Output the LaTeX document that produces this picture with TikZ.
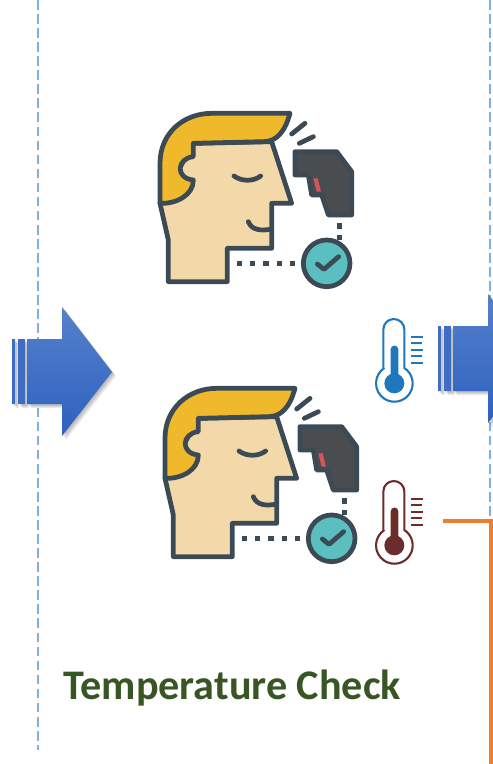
\documentclass[tikz,border=0pt]{standalone}
\usepackage{xcolor}
\usepackage{fontspec}
\setmainfont{Carlito}
\usepackage{tikz}
\definecolor{iconline}{HTML}{3B4A54}
\definecolor{hairfill}{HTML}{F0B92B}
\definecolor{skinfill}{HTML}{F3D9AA}
\definecolor{gunfill}{HTML}{4A4D50}
\definecolor{triggerfill}{HTML}{D9545A}
\definecolor{checkfill}{HTML}{5BBFC0}
\definecolor{coolblue}{HTML}{1F78BE}
\definecolor{hotred}{HTML}{6B2C2C}
\definecolor{guideblue}{HTML}{7FB0DE}
\definecolor{flagorange}{HTML}{ED7D31}
\definecolor{titlegreen}{HTML}{375623}
\definecolor{arrowtop}{HTML}{5580CB}
\definecolor{arrowbottom}{HTML}{2E61BF}
\tikzset{
facepart/.style={draw=iconline,line width=2.7pt,line join=round,line cap=round},
guide/.style={draw=guideblue,line width=0.6pt,dash pattern=on 5.5pt off 2.5pt},
flag/.style={draw=flagorange,line width=2.2pt},
pics/faceicon/.style={code={
% hair and head
\path[facepart,fill=skinfill] (60,310) -- (85,420) -- (85,545) -- (262,545) -- (262,445) -- (395,445) -- (395,310) -- (455,310) -- (395,125) -- (160,130) -- cycle;
\path[facepart,fill=hairfill] (60,310) -- (60,190) .. controls (60,100) and (130,40) .. (215,40) -- (450,40) .. controls (435,95) and (410,125) .. (370,125) -- (160,130) -- (160,170) .. controls (110,175) and (105,235) .. (160,240) .. controls (160,285) and (110,312) .. (60,310) -- cycle;
% eye and smile
\path[facepart] (282,228) .. controls (305,245) and (340,245) .. (362,228);
\path[facepart] (325,365) .. controls (335,392) and (365,392) .. (392,388);
% beams
\path[facepart] (455,102) -- (495,70);
\path[facepart] (478,130) -- (520,110);
% scanner
\path[facepart,fill=gunfill] (465,155) -- (590,155) -- (635,215) -- (635,345) -- (565,345) -- (545,285) -- (515,285) -- (505,225) -- (465,225) -- cycle;
\path[fill=triggerfill] (520,235) -- (533,235) -- (543,275) -- (530,275) -- cycle;
% dotted links
\foreach \dotx in {298,338,378,418,458}
\path[fill=iconline] (\dotx-8,482) rectangle (\dotx+8,498);
\foreach \doty in {378,412}
\path[fill=iconline] (590,\doty-8) rectangle (606,\doty+8);
% check mark
\path[facepart,fill=checkfill] (560,490) circle (70);
\path[facepart] (532,492) -- (552,508) -- (596,470);
}},
pics/thermo/.style={code={
\path[draw=#1,line width=1.2pt] (70,264) -- (70,148.5) arc[start angle=180,end angle=360,radius=31.5] -- (133,264) arc[start angle=-57,end angle=237,radius=55];
\path[fill=#1] (92,315) -- (92,208) arc[start angle=180,end angle=360,radius=11.5] -- (115,315) -- cycle;
\path[fill=#1] (103,310) circle (30);
\foreach \ticky/\tickx in {170/190,190/185,209/190,229/185,248/190}
\path[draw=#1,line width=1.2pt] (153,\ticky) -- (\tickx,\ticky);
}},
pics/bigarrow/.style={code={
\foreach \shadowstep in {1,2,3,4}
\path[fill=black,opacity=0.08,shift={(\shadowstep,\shadowstep)}] (12,339) rectangle (15,404) (18,339) rectangle (25,404) (27,339) -- (62,339) -- (62,307) -- (112,372) -- (62,436) -- (62,404) -- (27,404) -- cycle;
\path[top color=arrowtop,bottom color=arrowbottom] (27,339) -- (62,339) -- (62,307) -- (112,372) -- (62,436) -- (62,404) -- (27,404) -- cycle;
\path[fill=arrowbottom!60!arrowtop] (12,339) rectangle (15,404);
\path[fill=arrowbottom!60!arrowtop] (18,339) rectangle (25,404);
}}
}
\begin{document}
\begin{tikzpicture}[x=0.02cm,y=-0.02cm]

\useasboundingbox (0,0) rectangle (493,764);

%%%%%%%%%%%%%%%%%%%%%%%%%%%%%%%%%%%%
% Guides
%%%%%%%%%%%%%%%%%%%%%%%%%%%%%%%%%%%%

\coordinate (lefttop) at (38,0);
\coordinate (leftend) at (38,750);
\coordinate (righttop) at (490,0);
\coordinate (rightend) at (490,764);

\draw[guide] (lefttop)--(leftend);

\draw[guide] (righttop)--(rightend);

%%%%%%%%%%%%%%%%%%%%%%%%%%%%%%%%%%%%
% Arrows
%%%%%%%%%%%%%%%%%%%%%%%%%%%%%%%%%%%%

\pic at (0,0) {bigarrow};

\pic at (426,-13) {bigarrow};

%%%%%%%%%%%%%%%%%%%%%%%%%%%%%%%%%%%%
% Icons
%%%%%%%%%%%%%%%%%%%%%%%%%%%%%%%%%%%%

\pic[scale=1/3] at (140,100) {faceicon};

\pic[scale=1/3] at (145,375) {faceicon};

\pic[scale=1/3] at (360,280) {thermo=coolblue};

\pic[scale=1/3] at (360,442) {thermo=hotred};

%%%%%%%%%%%%%%%%%%%%%%%%%%%%%%%%%%%%
% Output
%%%%%%%%%%%%%%%%%%%%%%%%%%%%%%%%%%%%

\coordinate (flagstart) at (443,521);
\coordinate (flagend) at (491,764);

\draw[flag] (flagstart)-|(flagend);

\node[font=\bfseries\fontsize{24}{28}\selectfont,text=titlegreen,anchor=west,inner sep=0pt] (title) at (63,688) {Temperature Check};

\end{tikzpicture}
\end{document}
